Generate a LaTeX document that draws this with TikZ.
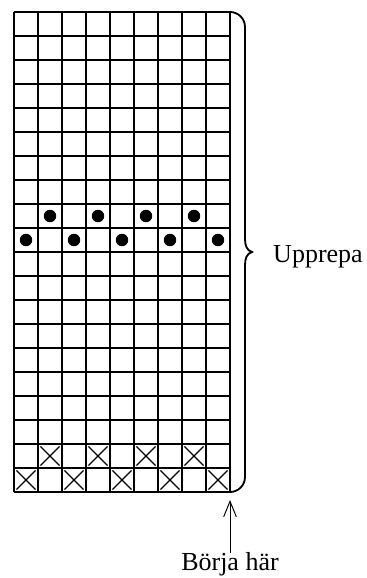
\documentclass[tikz,border=0pt]{standalone}
\usepackage{fontspec}
\setmainfont{Liberation Serif}
\usetikzlibrary{arrows.meta}

\begin{document}
\begin{tikzpicture}[>={Straight Barb[length=11pt,width=9pt]}, x=0.6cm, y=0.6cm,
    gridline/.style={line width=0.8pt},
    bead/.style={fill=black},
    cross/.style={line width=0.8pt},
    txt/.style={font=\fontsize{18.5}{22}\selectfont, inner sep=0pt}]
    \useasboundingbox (-0.583,-3.583) rectangle (14.667,20.5);

    % Grid
    \draw[gridline, step=1] (0,0) grid (9,20);

    % Beads
    \foreach \c in {1,3,5,7} \fill[bead] (\c+0.5,11.5) circle (0.26);
    \foreach \c in {0,2,4,6,8} \fill[bead] (\c+0.5,10.5) circle (0.26);

    % Crosses
    \foreach \c in {1,3,5,7} \draw[cross] (\c+0.1,1.1) -- (\c+0.9,1.9) (\c+0.1,1.9) -- (\c+0.9,1.1);
    \foreach \c in {0,2,4,6,8} \draw[cross] (\c+0.1,0.1) -- (\c+0.9,0.9) (\c+0.1,0.9) -- (\c+0.9,0.1);

    % Brace
    \coordinate (tip) at (9.917,10);
    \draw[line width=1.3pt] (9,20) to[out=0,in=90] (9.625,19.375) -- (9.625,10.55)
        to[out=-90,in=165] (tip) to[out=195,in=90] (9.625,9.45) -- (9.625,0.625)
        to[out=-90,in=0] (9,0);
    \node[txt, anchor=base west] (upprepa) at (10.79,9.58) {Upprepa};

    % Start
    \coordinate (start) at (9,-0.333);
    \node[txt, anchor=base] (borja) at (9,-3.29) {Börja här};
    \draw[->, line width=0.7pt] (borja) -- (start);
\end{tikzpicture}
\end{document}
